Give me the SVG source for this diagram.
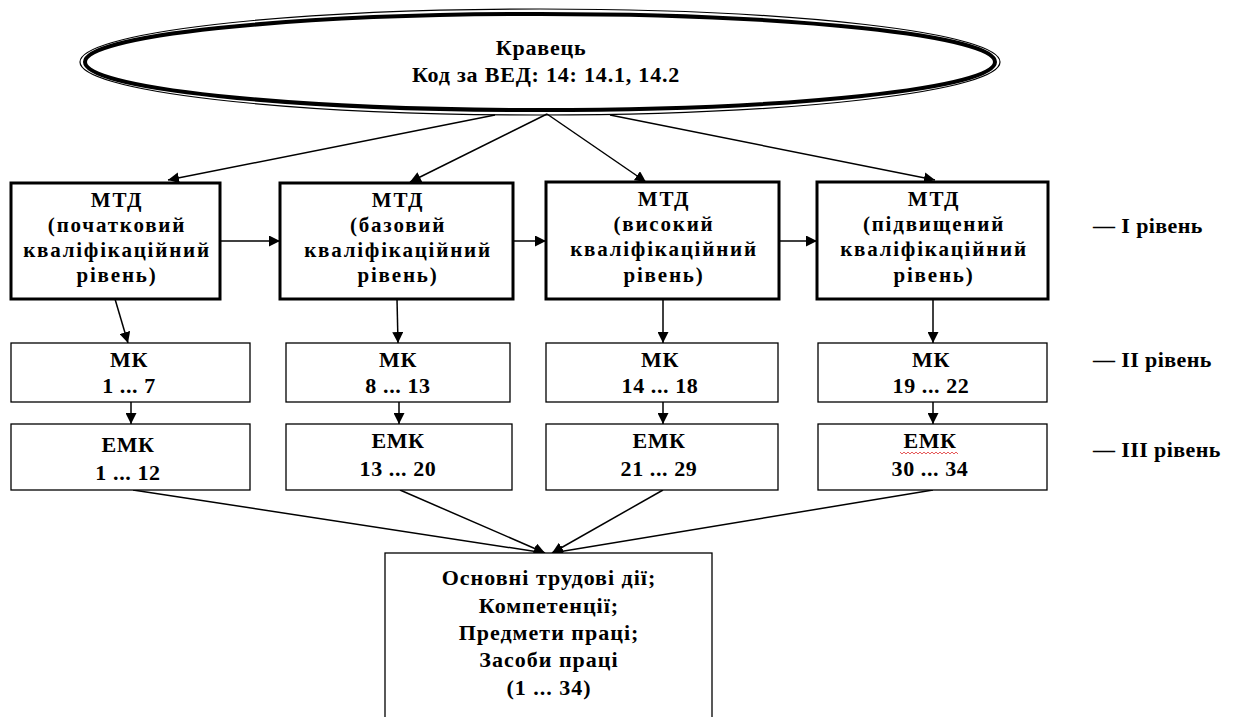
<svg xmlns="http://www.w3.org/2000/svg" width="1238" height="717" viewBox="0 0 1238 717">
<defs>
<marker id="ah" markerUnits="userSpaceOnUse" markerWidth="12" markerHeight="11" refX="11" refY="5.5" orient="auto">
<path d="M0,0 L11,5.5 L0,11 z" fill="#000"/>
</marker>
<style>
.t{font-family:"Liberation Serif","Times New Roman",serif;font-weight:bold;fill:#000;text-anchor:middle}
.t1{font-size:21px;letter-spacing:1.8px}
.t2{font-size:22px;letter-spacing:0.6px}
.t3{font-size:22px;letter-spacing:1px}
.lv{font-family:"Liberation Serif","Times New Roman",serif;font-weight:bold;font-size:22px;letter-spacing:0.4px;fill:#000}
.b1{fill:#fff;stroke:#000;stroke-width:3}
.b2{fill:#fff;stroke:#000;stroke-width:1.3}
.c{stroke:#000;stroke-width:1.5;fill:none;marker-end:url(#ah)}
</style>
</defs>
<rect width="1238" height="717" fill="#fff"/>

<g id="root">
<ellipse cx="540" cy="62" rx="460" ry="53" fill="#fff" stroke="#000" stroke-width="1.2"/>
<ellipse cx="540" cy="62" rx="455" ry="48" fill="#fff" stroke="#000" stroke-width="4"/>
<text class="t" x="541" y="55" font-size="22" letter-spacing="0.8">Кравець</text>
<text class="t" x="546" y="82" font-size="22" letter-spacing="0.8">Код за ВЕД: 14: 14.1, 14.2</text>
</g>

<g id="connectors">
<line class="c" x1="495" y1="115" x2="168" y2="180"/>
<line class="c" x1="547" y1="114" x2="410" y2="182"/>
<line class="c" x1="547" y1="114" x2="646" y2="182"/>
<line class="c" x1="610" y1="115" x2="935" y2="180"/>
<line class="c" x1="220" y1="241" x2="280" y2="241"/>
<line class="c" x1="513" y1="241" x2="546" y2="241"/>
<line class="c" x1="779" y1="241" x2="817" y2="241"/>
<line class="c" x1="115" y1="299" x2="128" y2="343"/>
<line class="c" x1="397" y1="299" x2="398" y2="343"/>
<line class="c" x1="663" y1="299" x2="663" y2="343"/>
<line class="c" x1="933" y1="299" x2="933" y2="343"/>
<line class="c" x1="131" y1="402" x2="131" y2="424"/>
<line class="c" x1="399" y1="402" x2="399" y2="424"/>
<line class="c" x1="663" y1="402" x2="663" y2="424"/>
<line class="c" x1="933" y1="402" x2="933" y2="424"/>
<line class="c" x1="133" y1="490" x2="545" y2="553"/>
<line class="c" x1="400" y1="490" x2="545" y2="553"/>
<line class="c" x1="663" y1="490" x2="552" y2="553"/>
<line class="c" x1="933" y1="490" x2="552" y2="553"/>
</g>

<g id="mtd1">
<rect class="b1" x="11" y="183" width="209" height="116"/>
<text class="t t1" x="117" y="207">МТД</text>
<text class="t t1" x="117" y="232">(початковий</text>
<text class="t t1" x="117" y="257">кваліфікаційний</text>
<text class="t t1" x="117" y="282">рівень)</text>
</g>
<g id="mtd2">
<rect class="b1" x="280" y="183" width="233" height="116"/>
<text class="t t1" x="398" y="207">МТД</text>
<text class="t t1" x="398" y="232">(базовий</text>
<text class="t t1" x="398" y="257">кваліфікаційний</text>
<text class="t t1" x="398" y="282">рівень)</text>
</g>
<g id="mtd3">
<rect class="b1" x="546" y="182" width="233" height="117"/>
<text class="t t1" x="664" y="206">МТД</text>
<text class="t t1" x="664" y="231">(високий</text>
<text class="t t1" x="664" y="256">кваліфікаційний</text>
<text class="t t1" x="664" y="282">рівень)</text>
</g>
<g id="mtd4">
<rect class="b1" x="817" y="182" width="231" height="117"/>
<text class="t t1" x="934" y="206">МТД</text>
<text class="t t1" x="934" y="231">(підвищений</text>
<text class="t t1" x="934" y="256">кваліфікаційний</text>
<text class="t t1" x="934" y="282">рівень)</text>
</g>

<g id="mk1">
<rect class="b2" x="11" y="343" width="239" height="59"/>
<text class="t t2" x="129" y="367">МК</text>
<text class="t t2" x="129" y="393">1 ... 7</text>
</g>
<g id="mk2">
<rect class="b2" x="286" y="343" width="224" height="59"/>
<text class="t t2" x="398" y="367">МК</text>
<text class="t t2" x="398" y="393">8 ... 13</text>
</g>
<g id="mk3">
<rect class="b2" x="546" y="343" width="232" height="59"/>
<text class="t t2" x="660" y="367">МК</text>
<text class="t t2" x="660" y="393">14 ... 18</text>
</g>
<g id="mk4">
<rect class="b2" x="818" y="343" width="229" height="59"/>
<text class="t t2" x="931" y="367">МК</text>
<text class="t t2" x="931" y="393">19 ... 22</text>
</g>

<g id="emk1">
<rect class="b2" x="11" y="424" width="239" height="66"/>
<text class="t t2" x="128" y="452">ЕМК</text>
<text class="t t2" x="128" y="480">1 ... 12</text>
</g>
<g id="emk2">
<rect class="b2" x="286" y="424" width="226" height="66"/>
<text class="t t2" x="398" y="448">ЕМК</text>
<text class="t t2" x="398" y="476">13 ... 20</text>
</g>
<g id="emk3">
<rect class="b2" x="546" y="424" width="232" height="66"/>
<text class="t t2" x="659" y="448">ЕМК</text>
<text class="t t2" x="659" y="476">21 ... 29</text>
</g>
<g id="emk4">
<rect class="b2" x="818" y="424" width="229" height="66"/>
<text class="t t2" x="930" y="448">ЕМК</text>
<path d="M900,452 l2,2 l2,-2 l2,2 l2,-2 l2,2 l2,-2 l2,2 l2,-2 l2,2 l2,-2 l2,2 l2,-2 l2,2 l2,-2 l2,2 l2,-2 l2,2 l2,-2 l2,2 l2,-2 l2,2 l2,-2 l2,2 l2,-2 l2,2 l2,-2 l2,2 l2,-2 l2,2" fill="none" stroke="#e03030" stroke-width="0.8"/>
<text class="t t2" x="930" y="476">30 ... 34</text>
</g>

<g id="result">
<rect class="b2" x="385" y="553" width="327" height="180"/>
<text class="t t3" x="549" y="585">Основні трудові дії;</text>
<text class="t t3" x="549" y="613">Компетенції;</text>
<text class="t t3" x="549" y="640">Предмети праці;</text>
<text class="t t3" x="549" y="667">Засоби праці</text>
<text class="t t3" x="549" y="695">(1 ... 34)</text>
</g>

<g id="levels">
<text class="lv" x="1093" y="233">— I рівень</text>
<text class="lv" x="1093" y="367">— II рівень</text>
<text class="lv" x="1093" y="457">— III рівень</text>
</g>
</svg>
